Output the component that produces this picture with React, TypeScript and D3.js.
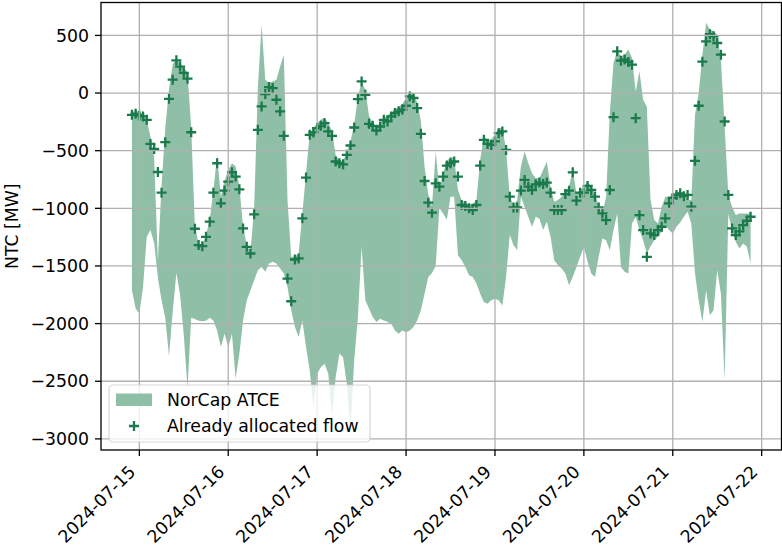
import React from "react";
import * as d3 from "d3";

// hourly values, first hour 2024-07-14 22:00 UTC
const startTime = Date.UTC(2024, 6, 14, 22);

const atceMax = [
  -168, -151, -160, -189, -238, -377, -560, -1450, -800, -300, 30, 250, 290, 260, 220, 180, -300,
  -1160, -1305, -1320, -1233, -1100, -840, -540, -900, -760, -667, -609, -638, -812, -1160, -1320,
  -1377, -986, 50, 594, 115, 87, 100, 115, 230, 333, -928, -1421, -1421, -1392, -1044, -696, -348,
  -304, -261, -232, -215, -260, -330, -540, -580, -590, -510, -420, -270, -30, 90, 30, -200, -260,
  -290, -260, -220, -190, -170, -140, -120, -95, -40, 15, -15, -80, -240, -640, -880, -980, -507,
  -841, -696, -594, -551, -565, -841, -928, -951, -962, -962, -928, -580, -377, -406, -400, -362,
  -304, -304, -493, -899, -971, -928, -638, -507, -609, -696, -739, -739, -667, -594, -812, -942,
  -928, -899, -855, -812, -667, -870, -841, -812, -768, -812, -884, -971, -1044, -900, -174, 261,
  370, 319, 333, 377, 304, 14, 188, -58, -116, -928, -1102, -1131, -986, -899, -899, -876, -864,
  -855, -884, -928, -928, -189, 0, 333, 609, 551, 536, 507, 290, -290, -884, -986, -1058, -1044,
  -1044, -1044, -1044,
];

const atceMin = [
  -1710, -1870, -1913, -1682, -1247, -1189, -1300, -1600, -1800, -1950, -2280, -1900, -1560, -1750,
  -2100, -2560, -1950, -1960, -1975, -1980, -1975, -1950, -1972, -2059, -2204, -2088, -2204, -2088,
  -2479, -2262, -1972, -1798, -1711, -1624, -1537, -1508, -1551, -1479, -1464, -1479, -1522, -1566,
  -1682, -1885, -2030, -2117, -1972, -2204, -2407, -2726, -2436, -2378, -2349, -2436, -2800, -2465,
  -2262, -2291, -2523, -2920, -2320, -1943, -1334, -1798, -1870, -1943, -1986, -1957, -1972, -1986,
  -2001, -2059, -2088, -2059, -2074, -2059, -2030, -1972, -1885, -1740, -1595, -1560, -1500, -1000,
  -1044, -1100, -900, -899, -1407, -1450, -1508, -1580, -1595, -1653, -1740, -1813, -1827, -1798,
  -1784, -1798, -1842, -1595, -1232, -1319, -1363, -900, -986, -1073, -1160, -1073, -1090, -1189,
  -1116, -1247, -1450, -1494, -1523, -1566, -1667, -1595, -1508, -1421, -1334, -1464, -1566, -1595,
  -1421, -1261, -1276, -1363, -1189, -1044, -1508, -1551, -1566, -1131, -1073, -1189, -1276, -1392,
  -1330, -1276, -1247, -1203, -1145, -1189, -1218, -1160, -1124, -1073, -1029, -1131, -1566, -1798,
  -1986, -1711, -1928, -1885, -1537, -1740, -2494, -1050, -1189, -1290, -1348, -1305, -1334, -1479,
];

const allocated = [
  -189, -180, -195, -203, -232, -441, -485, -685, -864, -426, -50, 116, 284, 230, 175, 125, -340,
  -1177, -1319, -1328, -1247, -1116, -864, -609, -957, -846, -768, -687, -725, -835, -1174, -1334,
  -1392, -1052, -319, -116, -9, 52, 43, -58, -159, -371, -1609, -1806, -1444, -1435, -1087, -733,
  -362, -342, -304, -284, -261, -333, -371, -594, -609, -618, -536, -455, -299, -52, 101, -15, -267,
  -284, -325, -290, -232, -246, -203, -174, -159, -145, -110, -29, -43, -130, -354, -763, -951,
  -1038, -783, -812, -725, -629, -609, -594, -725, -971, -980, -1000, -1015, -971, -629, -406, -441,
  -450, -420, -348, -333, -493, -899, -992, -992, -846, -754, -812, -841, -792, -777, -790, -777,
  -864, -1015, -1015, -1015, -876, -847, -688, -934, -864, -864, -806, -841, -899, -992, -1044,
  -1102, -841, -209, 362, 281, 290, 270, 246, -218, -1059, -1189, -1421, -1218, -1232, -1189, -1160,
  -1087, -957, -910, -884, -870, -895, -884, -986, -588, -110, 272, 449, 510, 492, 434, 333, -247,
  -884, -1174, -1232, -1200, -1145, -1108, -1073,
];

const dayTicks = [
  "2024-07-15", "2024-07-16", "2024-07-17", "2024-07-18",
  "2024-07-19", "2024-07-20", "2024-07-21", "2024-07-22",
];
const yTicks = [500, 0, -500, -1000, -1500, -2000, -2500, -3000];

const W = 782;
const H = 547;
const box = { left: 101, right: 781.5, top: 2.5, bottom: 450 };
const fillColor = "#8fc0a7";
const crossColor = "#1b7a4b";
const font = "'DejaVu Sans', sans-serif";
const fs = 17.3;

export default function App() {
  const times = atceMax.map((_, i) => new Date(startTime + i * 3600 * 1000));
  const t0 = +times[0];
  const t1 = +times[times.length - 1];
  const xPad = (t1 - t0) * 0.05;
  const x = d3
    .scaleUtc()
    .domain([new Date(t0 - xPad), new Date(t1 + xPad)])
    .range([box.left, box.right]);

  const lo = d3.min(atceMin) as number;
  const hi = d3.max(atceMax) as number;
  const yPad = (hi - lo) * 0.05;
  const y = d3.scaleLinear().domain([lo - yPad, hi + yPad]).range([box.bottom, box.top]);

  const area = d3
    .area<number>()
    .x((_, i) => x(times[i]))
    .y0((_, i) => y(atceMin[i]))
    .y1((d) => y(d));

  const parseDay = d3.utcParse("%Y-%m-%d");
  const fmt = d3.format("d");

  return (
    <svg
      width={W}
      height={H}
      style={{ position: "absolute", left: 0, top: 0, background: "#fff" }}
      fontFamily={font}
    >
      <defs>
        <clipPath id="plot">
          <rect x={box.left} y={box.top} width={box.right - box.left} height={box.bottom - box.top} />
        </clipPath>
      </defs>

      <g clipPath="url(#plot)">
        <path d={area(atceMax) ?? ""} fill={fillColor} />
        {allocated.map((v, i) => (
          <path
            key={i}
            transform={`translate(${x(times[i])},${y(v)})`}
            d="M-5,0H5M0,-5V5"
            stroke={crossColor}
            strokeWidth={2.3}
            fill="none"
          />
        ))}
        {/* grid above the marks, like matplotlib's default */}
        {dayTicks.map((d) => {
          const tx = x(parseDay(d) as Date);
          return <line key={d} x1={tx} x2={tx} y1={box.top} y2={box.bottom} stroke="#b0b0b0" strokeWidth={1.3} />;
        })}
        {yTicks.map((v) => (
          <line key={v} x1={box.left} x2={box.right} y1={y(v)} y2={y(v)} stroke="#b0b0b0" strokeWidth={1.3} />
        ))}
      </g>

      {/* legend */}
      <g>
        <rect x={109} y={385} width={261} height={57} rx={4} fill="#fff" fillOpacity={0.8} stroke="#cccccc" strokeOpacity={0.8} strokeWidth={1.2} />
        <rect x={116} y={393.5} width={36} height={12.5} fill={fillColor} />
        <text x={167} y={406} fontSize={fs} fill="#000">NorCap ATCE</text>
        <path transform="translate(134,426)" d="M-5,0H5M0,-5V5" stroke={crossColor} strokeWidth={2.3} />
        <text x={167} y={432} fontSize={fs} fill="#000">Already allocated flow</text>
      </g>

      {/* frame */}
      <rect
        x={box.left}
        y={box.top}
        width={box.right - box.left}
        height={box.bottom - box.top}
        fill="none"
        stroke="#000"
        strokeWidth={1.3}
      />

      {/* x axis */}
      {dayTicks.map((d) => {
        const tx = x(parseDay(d) as Date);
        return (
          <g key={d}>
            <line x1={tx} x2={tx} y1={box.bottom} y2={box.bottom + 6} stroke="#000" strokeWidth={1.3} />
            <text
              transform={`translate(${tx - 2.8},${box.bottom + 23}) rotate(-45)`}
              textAnchor="end"
              fontSize={fs}
              fill="#000"
            >
              {d}
            </text>
          </g>
        );
      })}

      {/* y axis */}
      {yTicks.map((v) => (
        <g key={v}>
          <line x1={box.left - 6} x2={box.left} y1={y(v)} y2={y(v)} stroke="#000" strokeWidth={1.3} />
          <text x={box.left - 12} y={y(v)} dy="0.36em" textAnchor="end" fontSize={fs} fill="#000">
            {fmt(v)}
          </text>
        </g>
      ))}
      <text
        transform={`translate(17.5,${(box.top + box.bottom) / 2}) rotate(-90)`}
        textAnchor="middle"
        fontSize={fs}
        fill="#000"
      >
        NTC [MW]
      </text>
    </svg>
  );
}
